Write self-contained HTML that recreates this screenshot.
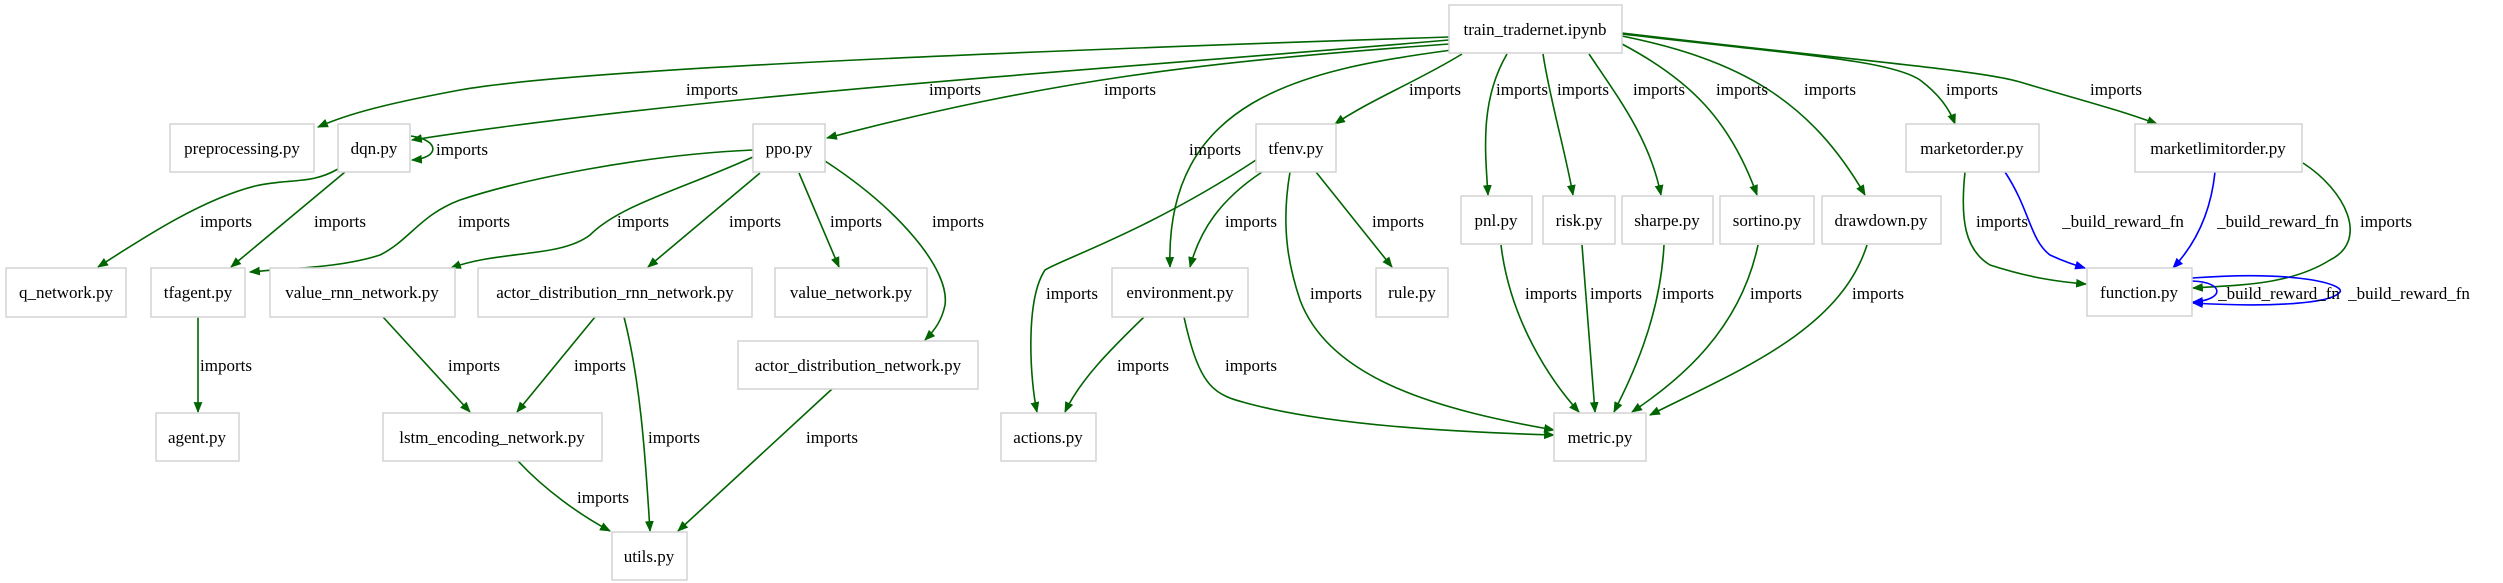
<!DOCTYPE html>
<html><head><meta charset="utf-8"><style>
html,body{margin:0;padding:0;background:#fff;}
svg{display:block;}
text{font-family:"Liberation Serif",serif;font-size:17px;fill:#000;}
.n rect{fill:#fff;stroke:#d3d3d3;stroke-width:1.5;}
.g{fill:none;stroke:#006400;stroke-width:1.6;}
.b{fill:none;stroke:#0000ff;stroke-width:1.6;}
</style></head><body>
<svg width="2503" height="583" viewBox="0 0 2503 583" xmlns="http://www.w3.org/2000/svg">
<defs>
<marker id="ag" viewBox="0 0 10 10" refX="9" refY="5" markerWidth="11" markerHeight="11" markerUnits="userSpaceOnUse" orient="auto"><path d="M0,1 L10,5 L0,9 z" fill="#006400"/></marker>
<marker id="ab" viewBox="0 0 10 10" refX="9" refY="5" markerWidth="11" markerHeight="11" markerUnits="userSpaceOnUse" orient="auto"><path d="M0,1 L10,5 L0,9 z" fill="#0000ff"/></marker>
</defs>
<path class="g" d="M1449,37 C900,55 560,72 460,90 C390,103 350,113 318,127" marker-end="url(#ag)"/>
<path class="g" d="M1449,40 C1100,70 700,95 412,140" marker-end="url(#ag)"/>
<path class="g" d="M1449,44 C1200,62 1050,80 827,138" marker-end="url(#ag)"/>
<path class="g" d="M1452,50 C1300,70 1165,100 1170,267" marker-end="url(#ag)"/>
<path class="g" d="M1462,54 C1420,80 1370,100 1335,124" marker-end="url(#ag)"/>
<path class="g" d="M1507,54 C1480,100 1485,150 1488,195" marker-end="url(#ag)"/>
<path class="g" d="M1543,54 C1550,100 1565,150 1573,195" marker-end="url(#ag)"/>
<path class="g" d="M1589,54 C1620,100 1650,140 1661,195" marker-end="url(#ag)"/>
<path class="g" d="M1622,44 C1690,80 1730,120 1757,195" marker-end="url(#ag)"/>
<path class="g" d="M1622,36 C1740,60 1810,100 1865,195" marker-end="url(#ag)"/>
<path class="g" d="M1622,34 C1800,55 1890,60 1920,80 C1940,95 1950,110 1955,124" marker-end="url(#ag)"/>
<path class="g" d="M1622,33 C1850,60 1980,70 2020,82 C2080,100 2120,110 2157,124" marker-end="url(#ag)"/>
<path class="g" d="M411,136 C440,140 440,158 412,160" marker-end="url(#ag)"/>
<path class="g" d="M338,169 C310,185 290,178 255,186 C200,200 140,240 98,267" marker-end="url(#ag)"/>
<path class="g" d="M345,172 L231,267" marker-end="url(#ag)"/>
<path class="g" d="M753,150 C640,155 520,180 460,200 C420,215 410,240 380,255 C340,268 290,268 250,272" marker-end="url(#ag)"/>
<path class="g" d="M753,157 C680,190 620,205 590,235 C560,258 500,250 451,268" marker-end="url(#ag)"/>
<path class="g" d="M760,173 L648,267" marker-end="url(#ag)"/>
<path class="g" d="M799,173 L839,267" marker-end="url(#ag)"/>
<path class="g" d="M825,161 C900,210 950,270 945,305 C942,320 935,330 925,340" marker-end="url(#ag)"/>
<path class="g" d="M198,317 L198,412" marker-end="url(#ag)"/>
<path class="g" d="M383,317 L470,412" marker-end="url(#ag)"/>
<path class="g" d="M595,317 L517,412" marker-end="url(#ag)"/>
<path class="g" d="M624,317 C640,380 645,450 650,531" marker-end="url(#ag)"/>
<path class="g" d="M518,461 C545,490 580,515 610,531" marker-end="url(#ag)"/>
<path class="g" d="M832,389 L678,531" marker-end="url(#ag)"/>
<path class="g" d="M1256,160 C1150,230 1060,260 1045,270 C1025,300 1030,380 1037,412" marker-end="url(#ag)"/>
<path class="g" d="M1262,172 C1220,200 1200,230 1190,267" marker-end="url(#ag)"/>
<path class="g" d="M1144,317 C1110,350 1080,380 1065,412" marker-end="url(#ag)"/>
<path class="g" d="M1184,317 C1200,390 1215,395 1250,404 C1330,425 1450,432 1554,435" marker-end="url(#ag)"/>
<path class="g" d="M1290,172 C1280,230 1290,270 1300,300 C1330,380 1440,410 1554,430" marker-end="url(#ag)"/>
<path class="g" d="M1316,172 L1392,267" marker-end="url(#ag)"/>
<path class="g" d="M1501,245 C1510,320 1550,380 1579,412" marker-end="url(#ag)"/>
<path class="g" d="M1582,245 L1595,412" marker-end="url(#ag)"/>
<path class="g" d="M1664,245 C1660,320 1630,380 1614,412" marker-end="url(#ag)"/>
<path class="g" d="M1758,245 C1740,330 1680,380 1632,412" marker-end="url(#ag)"/>
<path class="g" d="M1867,245 C1840,330 1740,370 1650,415" marker-end="url(#ag)"/>
<path class="g" d="M1965,172 C1960,220 1965,250 1990,265 C2030,278 2060,282 2086,284" marker-end="url(#ag)"/>
<path class="g" d="M2303,163 C2345,190 2370,240 2330,260 C2290,285 2240,285 2193,288" marker-end="url(#ag)"/>
<path class="b" d="M2005,172 C2030,210 2030,240 2050,255 C2065,262 2075,265 2085,268" marker-end="url(#ab)"/>
<path class="b" d="M2215,172 C2210,220 2190,250 2173,268" marker-end="url(#ab)"/>
<path class="b" d="M2192,281 C2225,282 2225,300 2193,302" marker-end="url(#ab)"/>
<path class="b" d="M2192,278 C2300,270 2345,285 2340,292 C2330,305 2260,307 2193,303" marker-end="url(#ab)"/>
<g text-anchor="middle">
<text x="712" y="95">imports</text><text x="955" y="95">imports</text><text x="1130" y="95">imports</text>
<text x="1435" y="95">imports</text><text x="1522" y="95">imports</text><text x="1583" y="95">imports</text>
<text x="1659" y="95">imports</text><text x="1742" y="95">imports</text><text x="1830" y="95">imports</text>
<text x="1972" y="95">imports</text><text x="2116" y="95">imports</text>
<text x="462" y="155">imports</text><text x="1215" y="155">imports</text>
<text x="226" y="227">imports</text><text x="340" y="227">imports</text><text x="484" y="227">imports</text>
<text x="643" y="227">imports</text><text x="755" y="227">imports</text><text x="856" y="227">imports</text>
<text x="958" y="227">imports</text><text x="1251" y="227">imports</text><text x="1398" y="227">imports</text>
<text x="2002" y="227">imports</text><text x="2123" y="227">_build_reward_fn</text>
<text x="2278" y="227">_build_reward_fn</text><text x="2386" y="227">imports</text>
<text x="1072" y="299">imports</text><text x="1336" y="299">imports</text>
<text x="1551" y="299">imports</text><text x="1616" y="299">imports</text><text x="1688" y="299">imports</text>
<text x="1776" y="299">imports</text><text x="1878" y="299">imports</text>
<text x="2279" y="299">_build_reward_fn</text><text x="2409" y="299">_build_reward_fn</text>
<text x="226" y="371">imports</text><text x="474" y="371">imports</text><text x="600" y="371">imports</text>
<text x="1143" y="371">imports</text><text x="1251" y="371">imports</text>
<text x="674" y="443">imports</text><text x="832" y="443">imports</text>
<text x="603" y="503">imports</text>
</g>
<g class="n" text-anchor="middle">
<rect x="1449" y="5" width="173" height="48"/><text x="1535" y="35">train_tradernet.ipynb</text>
<rect x="170" y="124" width="144" height="48"/><text x="242" y="154">preprocessing.py</text>
<rect x="338" y="124" width="72" height="48"/><text x="374" y="154">dqn.py</text>
<rect x="753" y="124" width="72" height="48"/><text x="789" y="154">ppo.py</text>
<rect x="1256" y="124" width="80" height="48"/><text x="1296" y="154">tfenv.py</text>
<rect x="1906" y="124" width="133" height="48"/><text x="1972" y="154">marketorder.py</text>
<rect x="2135" y="124" width="167" height="48"/><text x="2218" y="154">marketlimitorder.py</text>
<rect x="1461" y="196" width="71" height="48"/><text x="1496" y="226">pnl.py</text>
<rect x="1543" y="196" width="72" height="48"/><text x="1579" y="226">risk.py</text>
<rect x="1622" y="196" width="91" height="48"/><text x="1667" y="226">sharpe.py</text>
<rect x="1720" y="196" width="94" height="48"/><text x="1767" y="226">sortino.py</text>
<rect x="1822" y="196" width="119" height="48"/><text x="1881" y="226">drawdown.py</text>
<rect x="6" y="268" width="120" height="49"/><text x="66" y="298">q_network.py</text>
<rect x="151" y="268" width="94" height="49"/><text x="198" y="298">tfagent.py</text>
<rect x="270" y="268" width="185" height="49"/><text x="362" y="298">value_rnn_network.py</text>
<rect x="478" y="268" width="274" height="49"/><text x="615" y="298">actor_distribution_rnn_network.py</text>
<rect x="775" y="268" width="152" height="49"/><text x="851" y="298">value_network.py</text>
<rect x="1112" y="268" width="136" height="49"/><text x="1180" y="298">environment.py</text>
<rect x="1376" y="268" width="72" height="49"/><text x="1412" y="298">rule.py</text>
<rect x="2087" y="268" width="105" height="48"/><text x="2139" y="298">function.py</text>
<rect x="738" y="341" width="240" height="48"/><text x="858" y="371">actor_distribution_network.py</text>
<rect x="156" y="413" width="83" height="48"/><text x="197" y="443">agent.py</text>
<rect x="383" y="413" width="219" height="48"/><text x="492" y="443">lstm_encoding_network.py</text>
<rect x="1001" y="413" width="95" height="48"/><text x="1048" y="443">actions.py</text>
<rect x="1554" y="413" width="92" height="48"/><text x="1600" y="443">metric.py</text>
<rect x="612" y="532" width="75" height="48"/><text x="649" y="562">utils.py</text>
</g>
</svg>
</body></html>
